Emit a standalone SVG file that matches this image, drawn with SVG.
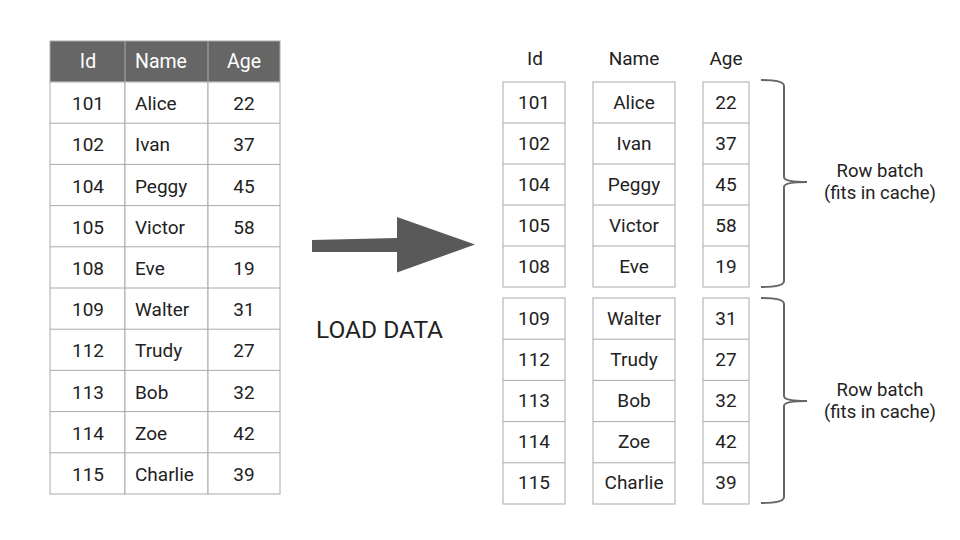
<svg xmlns="http://www.w3.org/2000/svg" width="960" height="540" viewBox="0 0 960 540">
<style>
text{font-family:Roboto,"Liberation Sans",sans-serif;font-size:19px;fill:#222}
.c{text-anchor:middle}
.h{fill:#fff;font-size:19.5px}
.cell{fill:#fff;stroke:#aaa;stroke-width:1}
.brace{fill:none;stroke:#666;stroke-width:2}
.lbl{font-size:18.5px}
</style>
<rect width="960" height="540" fill="#fff"/>
<g id="source-table">
<rect x="50" y="41" width="230" height="41" fill="#666" stroke="#aaa"/>
<line x1="125" y1="41" x2="125" y2="82" stroke="#aaa"/>
<line x1="208" y1="41" x2="208" y2="82" stroke="#aaa"/>
<text class="c h" x="88" y="68">Id</text>
<text class="h" x="135" y="68">Name</text>
<text class="c h" x="244" y="68">Age</text>
<g id="src-rows">
<rect class="cell" x="50" y="82" width="75" height="412"/>
<rect class="cell" x="125" y="82" width="83" height="412"/>
<rect class="cell" x="208" y="82" width="72" height="412"/>
<g stroke="#aaa">
<line x1="50" y1="123.2" x2="280" y2="123.2"/>
<line x1="50" y1="164.4" x2="280" y2="164.4"/>
<line x1="50" y1="205.6" x2="280" y2="205.6"/>
<line x1="50" y1="246.8" x2="280" y2="246.8"/>
<line x1="50" y1="288" x2="280" y2="288"/>
<line x1="50" y1="329.2" x2="280" y2="329.2"/>
<line x1="50" y1="370.4" x2="280" y2="370.4"/>
<line x1="50" y1="411.6" x2="280" y2="411.6"/>
<line x1="50" y1="452.8" x2="280" y2="452.8"/>
</g>
<text class="c" x="88" y="110">101</text><text x="135" y="110">Alice</text><text class="c" x="244" y="110">22</text>
<text class="c" x="88" y="151">102</text><text x="135" y="151">Ivan</text><text class="c" x="244" y="151">37</text>
<text class="c" x="88" y="193">104</text><text x="135" y="193">Peggy</text><text class="c" x="244" y="193">45</text>
<text class="c" x="88" y="234">105</text><text x="135" y="234">Victor</text><text class="c" x="244" y="234">58</text>
<text class="c" x="88" y="275">108</text><text x="135" y="275">Eve</text><text class="c" x="244" y="275">19</text>
<text class="c" x="88" y="316">109</text><text x="135" y="316">Walter</text><text class="c" x="244" y="316">31</text>
<text class="c" x="88" y="357">112</text><text x="135" y="357">Trudy</text><text class="c" x="244" y="357">27</text>
<text class="c" x="88" y="399">113</text><text x="135" y="399">Bob</text><text class="c" x="244" y="399">32</text>
<text class="c" x="88" y="440">114</text><text x="135" y="440">Zoe</text><text class="c" x="244" y="440">42</text>
<text class="c" x="88" y="481">115</text><text x="135" y="481">Charlie</text><text class="c" x="244" y="481">39</text>
</g>
</g>
<g id="load-arrow">
<polygon points="312,240 397,238 397,217 475,244.5 397,272.5 397,252 312,252" fill="#595959"/>
<text x="316" y="338" style="font-size:24.5px">LOAD DATA</text>
</g>
<g id="column-headers">
<text class="c" x="535" y="65">Id</text>
<text class="c" x="634" y="65">Name</text>
<text class="c" x="726" y="65">Age</text>
</g>
<g id="batch-1">
<rect class="cell" x="503" y="82" width="62" height="205"/>
<rect class="cell" x="593" y="82" width="82" height="205"/>
<rect class="cell" x="703" y="82" width="46" height="205"/>
<g stroke="#aaa">
<line x1="503" y1="123" x2="565" y2="123"/><line x1="593" y1="123" x2="675" y2="123"/><line x1="703" y1="123" x2="749" y2="123"/>
<line x1="503" y1="164" x2="565" y2="164"/><line x1="593" y1="164" x2="675" y2="164"/><line x1="703" y1="164" x2="749" y2="164"/>
<line x1="503" y1="205" x2="565" y2="205"/><line x1="593" y1="205" x2="675" y2="205"/><line x1="703" y1="205" x2="749" y2="205"/>
<line x1="503" y1="246" x2="565" y2="246"/><line x1="593" y1="246" x2="675" y2="246"/><line x1="703" y1="246" x2="749" y2="246"/>
</g>
<text class="c" x="534" y="109">101</text><text class="c" x="634" y="109">Alice</text><text class="c" x="726" y="109">22</text>
<text class="c" x="534" y="150">102</text><text class="c" x="634" y="150">Ivan</text><text class="c" x="726" y="150">37</text>
<text class="c" x="534" y="191">104</text><text class="c" x="634" y="191">Peggy</text><text class="c" x="726" y="191">45</text>
<text class="c" x="534" y="232">105</text><text class="c" x="634" y="232">Victor</text><text class="c" x="726" y="232">58</text>
<text class="c" x="534" y="273">108</text><text class="c" x="634" y="273">Eve</text><text class="c" x="726" y="273">19</text>
</g>
<g id="batch-2">
<rect class="cell" x="503" y="298" width="62" height="206"/>
<rect class="cell" x="593" y="298" width="82" height="206"/>
<rect class="cell" x="703" y="298" width="46" height="206"/>
<g stroke="#aaa">
<line x1="503" y1="339.2" x2="565" y2="339.2"/><line x1="593" y1="339.2" x2="675" y2="339.2"/><line x1="703" y1="339.2" x2="749" y2="339.2"/>
<line x1="503" y1="380.4" x2="565" y2="380.4"/><line x1="593" y1="380.4" x2="675" y2="380.4"/><line x1="703" y1="380.4" x2="749" y2="380.4"/>
<line x1="503" y1="421.6" x2="565" y2="421.6"/><line x1="593" y1="421.6" x2="675" y2="421.6"/><line x1="703" y1="421.6" x2="749" y2="421.6"/>
<line x1="503" y1="462.8" x2="565" y2="462.8"/><line x1="593" y1="462.8" x2="675" y2="462.8"/><line x1="703" y1="462.8" x2="749" y2="462.8"/>
</g>
<text class="c" x="534" y="325">109</text><text class="c" x="634" y="325">Walter</text><text class="c" x="726" y="325">31</text>
<text class="c" x="534" y="366">112</text><text class="c" x="634" y="366">Trudy</text><text class="c" x="726" y="366">27</text>
<text class="c" x="534" y="407">113</text><text class="c" x="634" y="407">Bob</text><text class="c" x="726" y="407">32</text>
<text class="c" x="534" y="448">114</text><text class="c" x="634" y="448">Zoe</text><text class="c" x="726" y="448">42</text>
<text class="c" x="534" y="489">115</text><text class="c" x="634" y="489">Charlie</text><text class="c" x="726" y="489">39</text>
</g>
<g id="brace-1">
<path class="brace" d="M761,80 Q784,80 784,86 L784,177 Q784,182 807,182 Q784,182 784,187 L784,281 Q784,287 761,287"/>
<text class="c lbl" x="880" y="177">Row batch</text>
<text class="c lbl" x="880" y="199">(fits in cache)</text>
</g>
<g id="brace-2">
<path class="brace" d="M761,298 Q784,298 784,304 L784,396 Q784,401 807,401 Q784,401 784,406 L784,497 Q784,503 761,503"/>
<text class="c lbl" x="880" y="396">Row batch</text>
<text class="c lbl" x="880" y="418">(fits in cache)</text>
</g>
</svg>
